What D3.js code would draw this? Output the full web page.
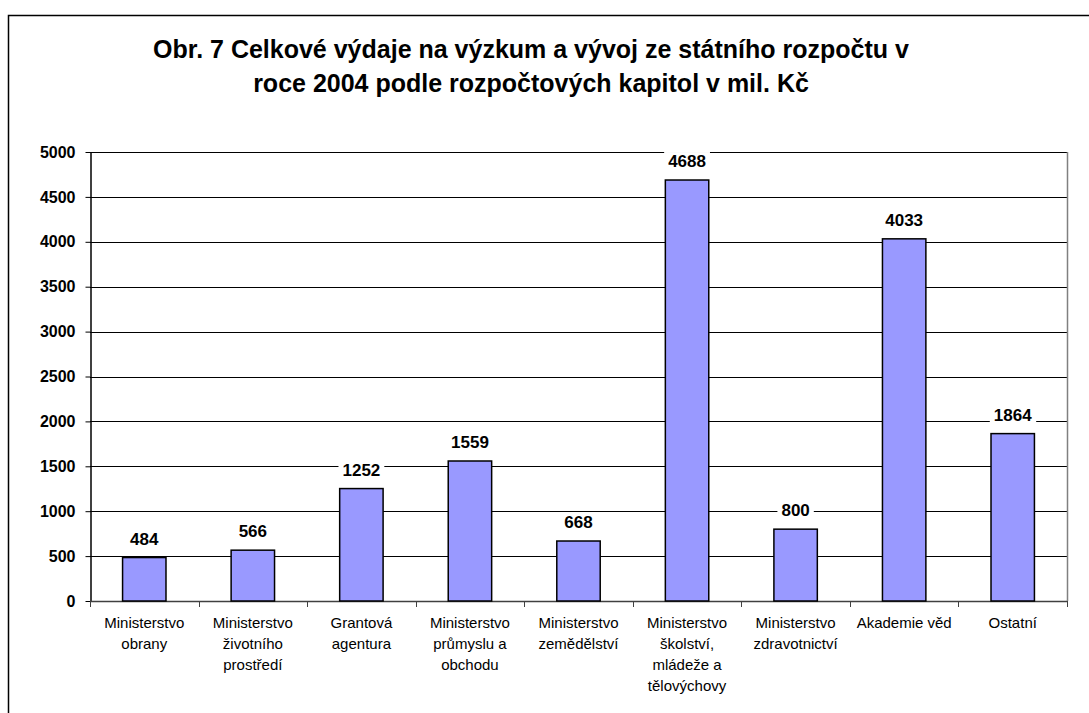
<!DOCTYPE html>
<html>
<head>
<meta charset="utf-8">
<script src="https://cdn.jsdelivr.net/npm/d3@7"></script>
<style>
  body { margin: 0; background: #fff; }
  svg { display: block; font-family: Arial, "Liberation Sans", sans-serif; }
</style>
</head>
<body>
<div id="chart"></div>
<script>
// data
const categories = [
  ["Ministerstvo", "obrany"],
  ["Ministerstvo", "životního", "prostředí"],
  ["Grantová", "agentura"],
  ["Ministerstvo", "průmyslu a", "obchodu"],
  ["Ministerstvo", "zemědělství"],
  ["Ministerstvo", "školství,", "mládeže a", "tělovýchovy"],
  ["Ministerstvo", "zdravotnictví"],
  ["Akademie věd"],
  ["Ostatní"]
];
const values = [484, 566, 1252, 1559, 668, 4688, 800, 4033, 1864];
const yTicks = [0, 500, 1000, 1500, 2000, 2500, 3000, 3500, 4000, 4500, 5000];
const titleLines = [
  "Obr. 7 Celkové výdaje na výzkum a vývoj ze státního rozpočtu v",
  "roce 2004 podle rozpočtových kapitol v mil. Kč"
];

const width = 1089, height = 713;
const plot = { left: 90, right: 1067, top: 152, bottom: 601 };

const svg = d3.select("#chart").append("svg")
  .attr("width", width).attr("height", height);

// outer frame
svg.append("rect")
  .attr("x", 8.5).attr("y", 15.5)
  .attr("width", 1100).attr("height", 720)
  .attr("fill", "#fff").attr("stroke", "#000").attr("stroke-width", 1.5);

// title
svg.append("text")
  .attr("x", 531).attr("y", 58)
  .attr("text-anchor", "middle")
  .attr("font-size", 25).attr("font-weight", "bold")
  .selectAll("tspan").data(titleLines).join("tspan")
  .attr("x", 531).attr("dy", (d, i) => i === 0 ? 0 : 34)
  .text(d => d);

// scales
const x = d3.scaleBand()
  .domain(d3.range(values.length))
  .range([plot.left, plot.right])
  .paddingInner(0.6).paddingOuter(0.3);
const xCat = d3.scaleBand().domain(d3.range(values.length)).range([plot.left, plot.right]);
const y = d3.scaleLinear().domain([0, 5000]).range([plot.bottom, plot.top]);

// gridlines
svg.append("g").selectAll("line").data(yTicks.filter(d => d > 0)).join("line")
  .attr("x1", plot.left).attr("x2", plot.right)
  .attr("y1", d => Math.round(y(d)) + 0.5).attr("y2", d => Math.round(y(d)) + 0.5)
  .attr("stroke", "#000").attr("stroke-width", 1);

// plot right side
svg.append("line")
  .attr("x1", plot.right + 0.5).attr("x2", plot.right + 0.5)
  .attr("y1", plot.top).attr("y2", plot.bottom)
  .attr("stroke", "#808080").attr("stroke-width", 1.5);

// y axis
const yAxis = d3.axisLeft(y).tickValues(yTicks).tickFormat(d3.format("d"))
  .tickSize(5).tickPadding(10).tickSizeOuter(0);
const gy = svg.append("g")
  .attr("transform", `translate(${plot.left + 0.5},0)`)
  .call(yAxis);
gy.select(".domain").attr("stroke", "#000").attr("stroke-width", 1.5);
gy.selectAll(".tick line").attr("stroke", "#000");
gy.selectAll(".tick text")
  .attr("font-size", 16).attr("font-weight", "bold")
  .attr("font-family", "Arial, 'Liberation Sans', sans-serif").attr("fill", "#000");

// x axis line and ticks at category boundaries
svg.append("line")
  .attr("x1", plot.left).attr("x2", plot.right)
  .attr("y1", plot.bottom + 0.5).attr("y2", plot.bottom + 0.5)
  .attr("stroke", "#404040").attr("stroke-width", 1.5);
svg.append("g").selectAll("line").data(d3.range(values.length + 1)).join("line")
  .attr("x1", i => Math.round(plot.left + i * xCat.step()) + 0.5)
  .attr("x2", i => Math.round(plot.left + i * xCat.step()) + 0.5)
  .attr("y1", plot.bottom).attr("y2", plot.bottom + 6)
  .attr("stroke", "#404040");

// bars
svg.append("g").selectAll("rect").data(values).join("rect")
  .attr("x", (d, i) => x(i))
  .attr("y", d => y(d))
  .attr("width", x.bandwidth())
  .attr("height", d => y(0) - y(d))
  .attr("fill", "#9999FF")
  .attr("stroke", "#000").attr("stroke-width", 1.5);

// value labels with white backgrounds
const labels = svg.append("g").selectAll("g").data(values).join("g");
labels.append("rect").attr("fill", "#fff");
labels.append("text")
  .attr("x", (d, i) => x(i) + x.bandwidth() / 2)
  .attr("y", d => y(d) - 13)
  .attr("text-anchor", "middle")
  .attr("font-size", 17).attr("font-weight", "bold")
  .text(d => d);
labels.each(function () {
  const g = d3.select(this);
  const b = g.select("text").node().getBBox();
  g.select("rect")
    .attr("x", b.x - 4).attr("y", b.y)
    .attr("width", b.width + 8).attr("height", b.height);
});

// category labels
svg.append("g").selectAll("text").data(categories).join("text")
  .attr("text-anchor", "middle")
  .attr("font-size", 15)
  .attr("fill", "#000")
  .each(function (lines, i) {
    d3.select(this).selectAll("tspan").data(lines).join("tspan")
      .attr("x", xCat(i) + xCat.bandwidth() / 2)
      .attr("y", (d, k) => 628 + k * 21)
      .text(d => d);
  });
</script>
</body>
</html>
